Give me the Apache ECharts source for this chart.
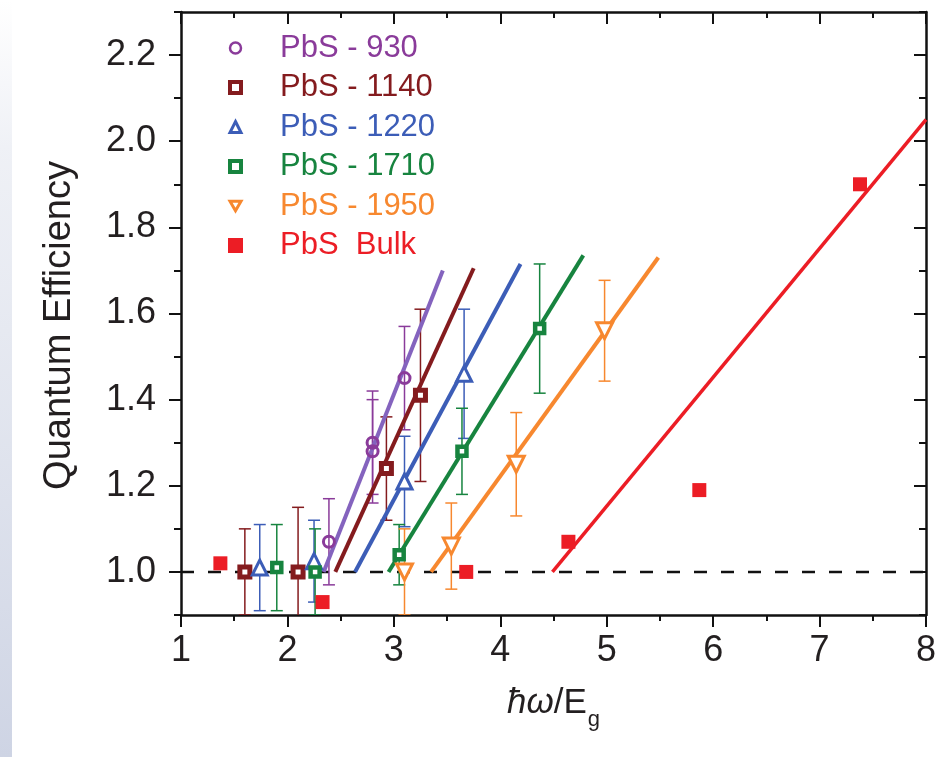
<!DOCTYPE html>
<html><head><meta charset="utf-8">
<script src="https://cdn.jsdelivr.net/npm/echarts@6/dist/echarts.min.js"></script>
<style>html,body{margin:0;padding:0;background:#fff}#c{width:943px;height:757px}</style>
</head><body><div id="c"></div>
<script>
// ---- axis ticks ----
const xMin = 1, xMax = 8;
const yMin = 0.9, yMax = 2.3;
const yMajor = [1.0, 1.2, 1.4, 1.6, 1.8, 2.0, 2.2];
const yMinor = [0.9, 1.1, 1.3, 1.5, 1.7, 1.9, 2.1, 2.3];

// ---- series names ----
const names = ['PbS - 930', 'PbS - 1140', 'PbS - 1220', 'PbS - 1710', 'PbS - 1950', 'PbS  Bulk'];

// ---- data (x, y, symmetric error) ----
const x930 = [2.39, 2.80, 2.80, 3.10];
const y930 = [1.07, 1.30, 1.28, 1.45];
const e930 = [0.10, 0.12, 0.12, 0.12];

const x1140 = [1.60, 2.10, 2.93, 3.25];
const y1140 = [1.00, 1.00, 1.24, 1.41];
const e1140 = [0.10, 0.15, 0.12, 0.20];

const x1220 = [1.74, 2.25, 3.10, 3.66];
const y1220 = [1.01, 1.025, 1.21, 1.46];
const e1220 = [0.10, 0.095, 0.105, 0.15];

const x1710 = [1.90, 2.26, 3.05, 3.64, 4.37];
const y1710 = [1.01, 1.00, 1.04, 1.28, 1.565];
const e1710 = [0.10, 0.10, 0.07, 0.10, 0.15];

const x1950 = [3.10, 3.54, 4.15, 4.98];
const y1950 = [1.00, 1.06, 1.25, 1.56];
const e1950 = [0.10, 0.10, 0.12, 0.117];

const xBulk = [1.37, 2.33, 3.68, 4.64, 5.87, 7.38];
const yBulk = [1.02, 0.93, 1.00, 1.07, 1.19, 1.90];

// ---- linear fits (end points) ----
const fit930x = [2.34, 3.46],  fit930y = [1.00, 1.70];
const fit1140x = [2.45, 3.75], fit1140y = [1.00, 1.705];
const fit1220x = [2.635, 4.19], fit1220y = [1.00, 1.715];
const fit1710x = [2.95, 4.78], fit1710y = [1.00, 1.735];
const fit1950x = [3.35, 5.485], fit1950y = [1.00, 1.73];
const fitBulkx = [4.49, 8.00], fitBulky = [1.00, 2.05];

// ---- reference line ----
const refX = [1, 8], refY = [1.0, 1.0];

const colors = ['#8a3b9a', '#841b1e', '#3c5db7', '#17843f', '#f7882f', '#ec1d25'];
const lineColors = ['#8463be', '#841b1e', '#3c5db7', '#17843f', '#f7882f', '#ec1d25'];
const FONT = '"Liberation Sans", Arial, Helvetica, sans-serif';
const TXT = '#231f20';
const DOWN_TRI = 'path://M0,0L20,0L10,17.3Z';

const zip = (xs, ys) => xs.map((x, i) => [x, ys[i]]);

function errSeries(name, xs, ys, es, color) {
  return {
    name: name, type: 'custom', silent: true, z: 2, clip: true,
    data: xs.map((x, i) => [x, ys[i] - es[i], ys[i] + es[i]]),
    encode: { x: 0, y: [1, 2] },
    renderItem: function (params, api) {
      const lo = api.coord([api.value(0), api.value(1)]);
      const hi = api.coord([api.value(0), api.value(2)]);
      const w = 6;
      const st = { stroke: color, lineWidth: 1.5 };
      return { type: 'group', children: [
        { type: 'line', shape: { x1: lo[0], y1: lo[1], x2: hi[0], y2: hi[1] }, style: st },
        { type: 'line', shape: { x1: lo[0] - w, y1: lo[1], x2: lo[0] + w, y2: lo[1] }, style: st },
        { type: 'line', shape: { x1: hi[0] - w, y1: hi[1], x2: hi[0] + w, y2: hi[1] }, style: st }
      ]};
    }
  };
}
function fitSeries(name, xs, ys, color, w) {
  return { name: name, type: 'line', silent: true, z: 3, symbol: 'none',
    data: zip(xs, ys), lineStyle: { color: color, width: w }, itemStyle: { color: color } };
}

const chart = echarts.init(document.getElementById('c'), null, { renderer: 'canvas' });

const option = {
  backgroundColor: '#ffffff',
  animation: false,
  textStyle: { fontFamily: FONT },
  graphic: [{
    type: 'rect', left: 0, top: 0, silent: true, z: -10,
    shape: { width: 12, height: 757 },
    style: { fill: new echarts.graphic.LinearGradient(0, 0, 0, 1, [
      { offset: 0, color: 'rgba(214,219,232,0)' },
      { offset: 0.2, color: 'rgba(214,219,232,0.4)' },
      { offset: 1, color: 'rgba(206,212,228,1)' }]) }
  }],
  grid: { left: 181, right: 17, top: 12, bottom: 142 },
  legend: {
    orient: 'vertical', left: 223, top: 27,
    itemWidth: 11, itemHeight: 11, itemGap: 7.5,
    selectedMode: false,
    textStyle: { fontSize: 31, fontFamily: FONT, lineHeight: 32, padding: [0, 0, 0, 34] },
    data: [
      { name: names[0], textStyle: { color: colors[0] }, itemStyle: { color: 'rgba(255,255,255,0)', borderColor: colors[0], borderWidth: 2.5 } },
      { name: names[1], textStyle: { color: colors[1] }, itemStyle: { color: '#fff', borderColor: colors[1], borderWidth: 4 } },
      { name: names[2], textStyle: { color: colors[2] }, itemStyle: { color: '#fff', borderColor: colors[2], borderWidth: 3 } },
      { name: names[3], textStyle: { color: colors[3] }, itemStyle: { color: '#fff', borderColor: colors[3], borderWidth: 4 } },
      { name: names[4], icon: DOWN_TRI, textStyle: { color: colors[4] }, itemStyle: { color: '#fff', borderColor: colors[4], borderWidth: 3 } },
      { name: names[5], textStyle: { color: colors[5] }, itemStyle: { color: colors[5], borderColor: colors[5], borderWidth: 4 } }
    ]
  },
  xAxis: [{
    type: 'value', position: 'bottom', min: xMin, max: xMax, interval: 1,
    axisLine: { onZero: false, lineStyle: { color: '#111', width: 2.5 } },
    axisTick: { length: 12, lineStyle: { color: '#111', width: 2 } },
    minorTick: { show: true, splitNumber: 2, length: 6, lineStyle: { color: '#111', width: 2 } },
    splitLine: { show: false },
    axisLabel: { fontSize: 36, color: TXT, margin: 18, fontFamily: FONT },
    name: '{i|ħω}/E{s|g}', nameLocation: 'middle', nameGap: 61,
    nameTextStyle: { fontSize: 35, color: TXT, fontFamily: FONT,
      rich: { i: { fontSize: 35, fontStyle: 'italic', color: TXT, fontFamily: FONT },
              s: { fontSize: 22, color: TXT, fontFamily: FONT, padding: [33, 0, 0, 1] } } }
  }, {
    type: 'value', position: 'top', min: xMin, max: xMax, interval: 1,
    axisLine: { onZero: false, lineStyle: { color: '#111', width: 2.5 } },
    axisTick: { inside: true, length: 12, lineStyle: { color: '#111', width: 2 } },
    minorTick: { show: true, splitNumber: 2, length: 6, lineStyle: { color: '#111', width: 2 } },
    axisLabel: { show: false }, splitLine: { show: false }
  }],
  yAxis: [{
    type: 'value', position: 'left', min: yMin, max: yMax,
    axisLine: { show: true, onZero: false, lineStyle: { color: '#111', width: 2.5 } },
    axisTick: { show: true, customValues: yMajor, length: 12, lineStyle: { color: '#111', width: 2 } },
    axisLabel: { customValues: yMajor, formatter: v => v.toFixed(1), fontSize: 36, color: TXT, margin: 25, fontFamily: FONT },
    splitLine: { show: false },
    name: 'Quantum Efficiency', nameLocation: 'middle', nameGap: 102, nameRotate: 90,
    nameTextStyle: { fontSize: 38, color: TXT, fontFamily: FONT, padding: [0, 24, 0, 0] }
  }, {
    type: 'value', position: 'left', min: yMin, max: yMax,
    axisLine: { show: false, onZero: false },
    axisTick: { show: true, customValues: yMinor, length: 7, lineStyle: { color: '#111', width: 2 } },
    axisLabel: { show: false }, splitLine: { show: false }
  }, {
    type: 'value', position: 'right', min: yMin, max: yMax,
    axisLine: { show: true, onZero: false, lineStyle: { color: '#111', width: 2.5 } },
    axisTick: { show: true, inside: true, customValues: yMajor, length: 12, lineStyle: { color: '#111', width: 2 } },
    axisLabel: { show: false }, splitLine: { show: false }
  }, {
    type: 'value', position: 'right', min: yMin, max: yMax,
    axisLine: { show: false, onZero: false },
    axisTick: { show: true, inside: true, customValues: yMinor, length: 7, lineStyle: { color: '#111', width: 2 } },
    axisLabel: { show: false }, splitLine: { show: false }
  }],
  series: [
    { name: 'ref', type: 'line', silent: true, z: 1, symbol: 'none', data: zip(refX, refY),
      lineStyle: { color: '#111', width: 2.5, type: [13, 14] } },

    errSeries('err930', x930, y930, e930, colors[0]),
    errSeries('err1140', x1140, y1140, e1140, colors[1]),
    errSeries('err1220', x1220, y1220, e1220, colors[2]),
    errSeries('err1710', x1710, y1710, e1710, colors[3]),
    errSeries('err1950', x1950, y1950, e1950, colors[4]),

    fitSeries('fit930', fit930x, fit930y, lineColors[0], 4),
    fitSeries('fit1140', fit1140x, fit1140y, lineColors[1], 4),
    fitSeries('fit1220', fit1220x, fit1220y, lineColors[2], 4),
    fitSeries('fit1710', fit1710x, fit1710y, lineColors[3], 4),
    fitSeries('fit1950', fit1950x, fit1950y, lineColors[4], 4),
    fitSeries('fitBulk', fitBulkx, fitBulky, lineColors[5], 3.5),

    { name: names[0], type: 'scatter', z: 4, symbol: 'circle', symbolSize: 11, data: zip(x930, y930),
      itemStyle: { color: 'rgba(255,255,255,0)', borderColor: colors[0], borderWidth: 3, opacity: 1 } },
    { name: names[1], type: 'scatter', z: 4, symbol: 'rect', symbolSize: 10, data: zip(x1140, y1140),
      itemStyle: { color: '#fff', borderColor: colors[1], borderWidth: 5, opacity: 1 } },
    { name: names[2], type: 'scatter', z: 4, symbol: 'triangle', symbolSize: 15, data: zip(x1220, y1220),
      itemStyle: { color: '#fff', borderColor: colors[2], borderWidth: 3, opacity: 1 } },
    { name: names[3], type: 'scatter', z: 4, symbol: 'rect', symbolSize: 9, data: zip(x1710, y1710),
      itemStyle: { color: '#fff', borderColor: colors[3], borderWidth: 4.5, opacity: 1 } },
    { name: names[4], type: 'scatter', z: 4, symbol: 'triangle', symbolRotate: 180, symbolSize: 16, data: zip(x1950, y1950),
      itemStyle: { color: '#fff', borderColor: colors[4], borderWidth: 3, opacity: 1 } },
    { name: names[5], type: 'scatter', z: 4, symbol: 'rect', symbolSize: 14, data: zip(xBulk, yBulk),
      itemStyle: { color: colors[5], opacity: 1 } }
  ]
};
chart.setOption(option);
</script>
</body></html>
